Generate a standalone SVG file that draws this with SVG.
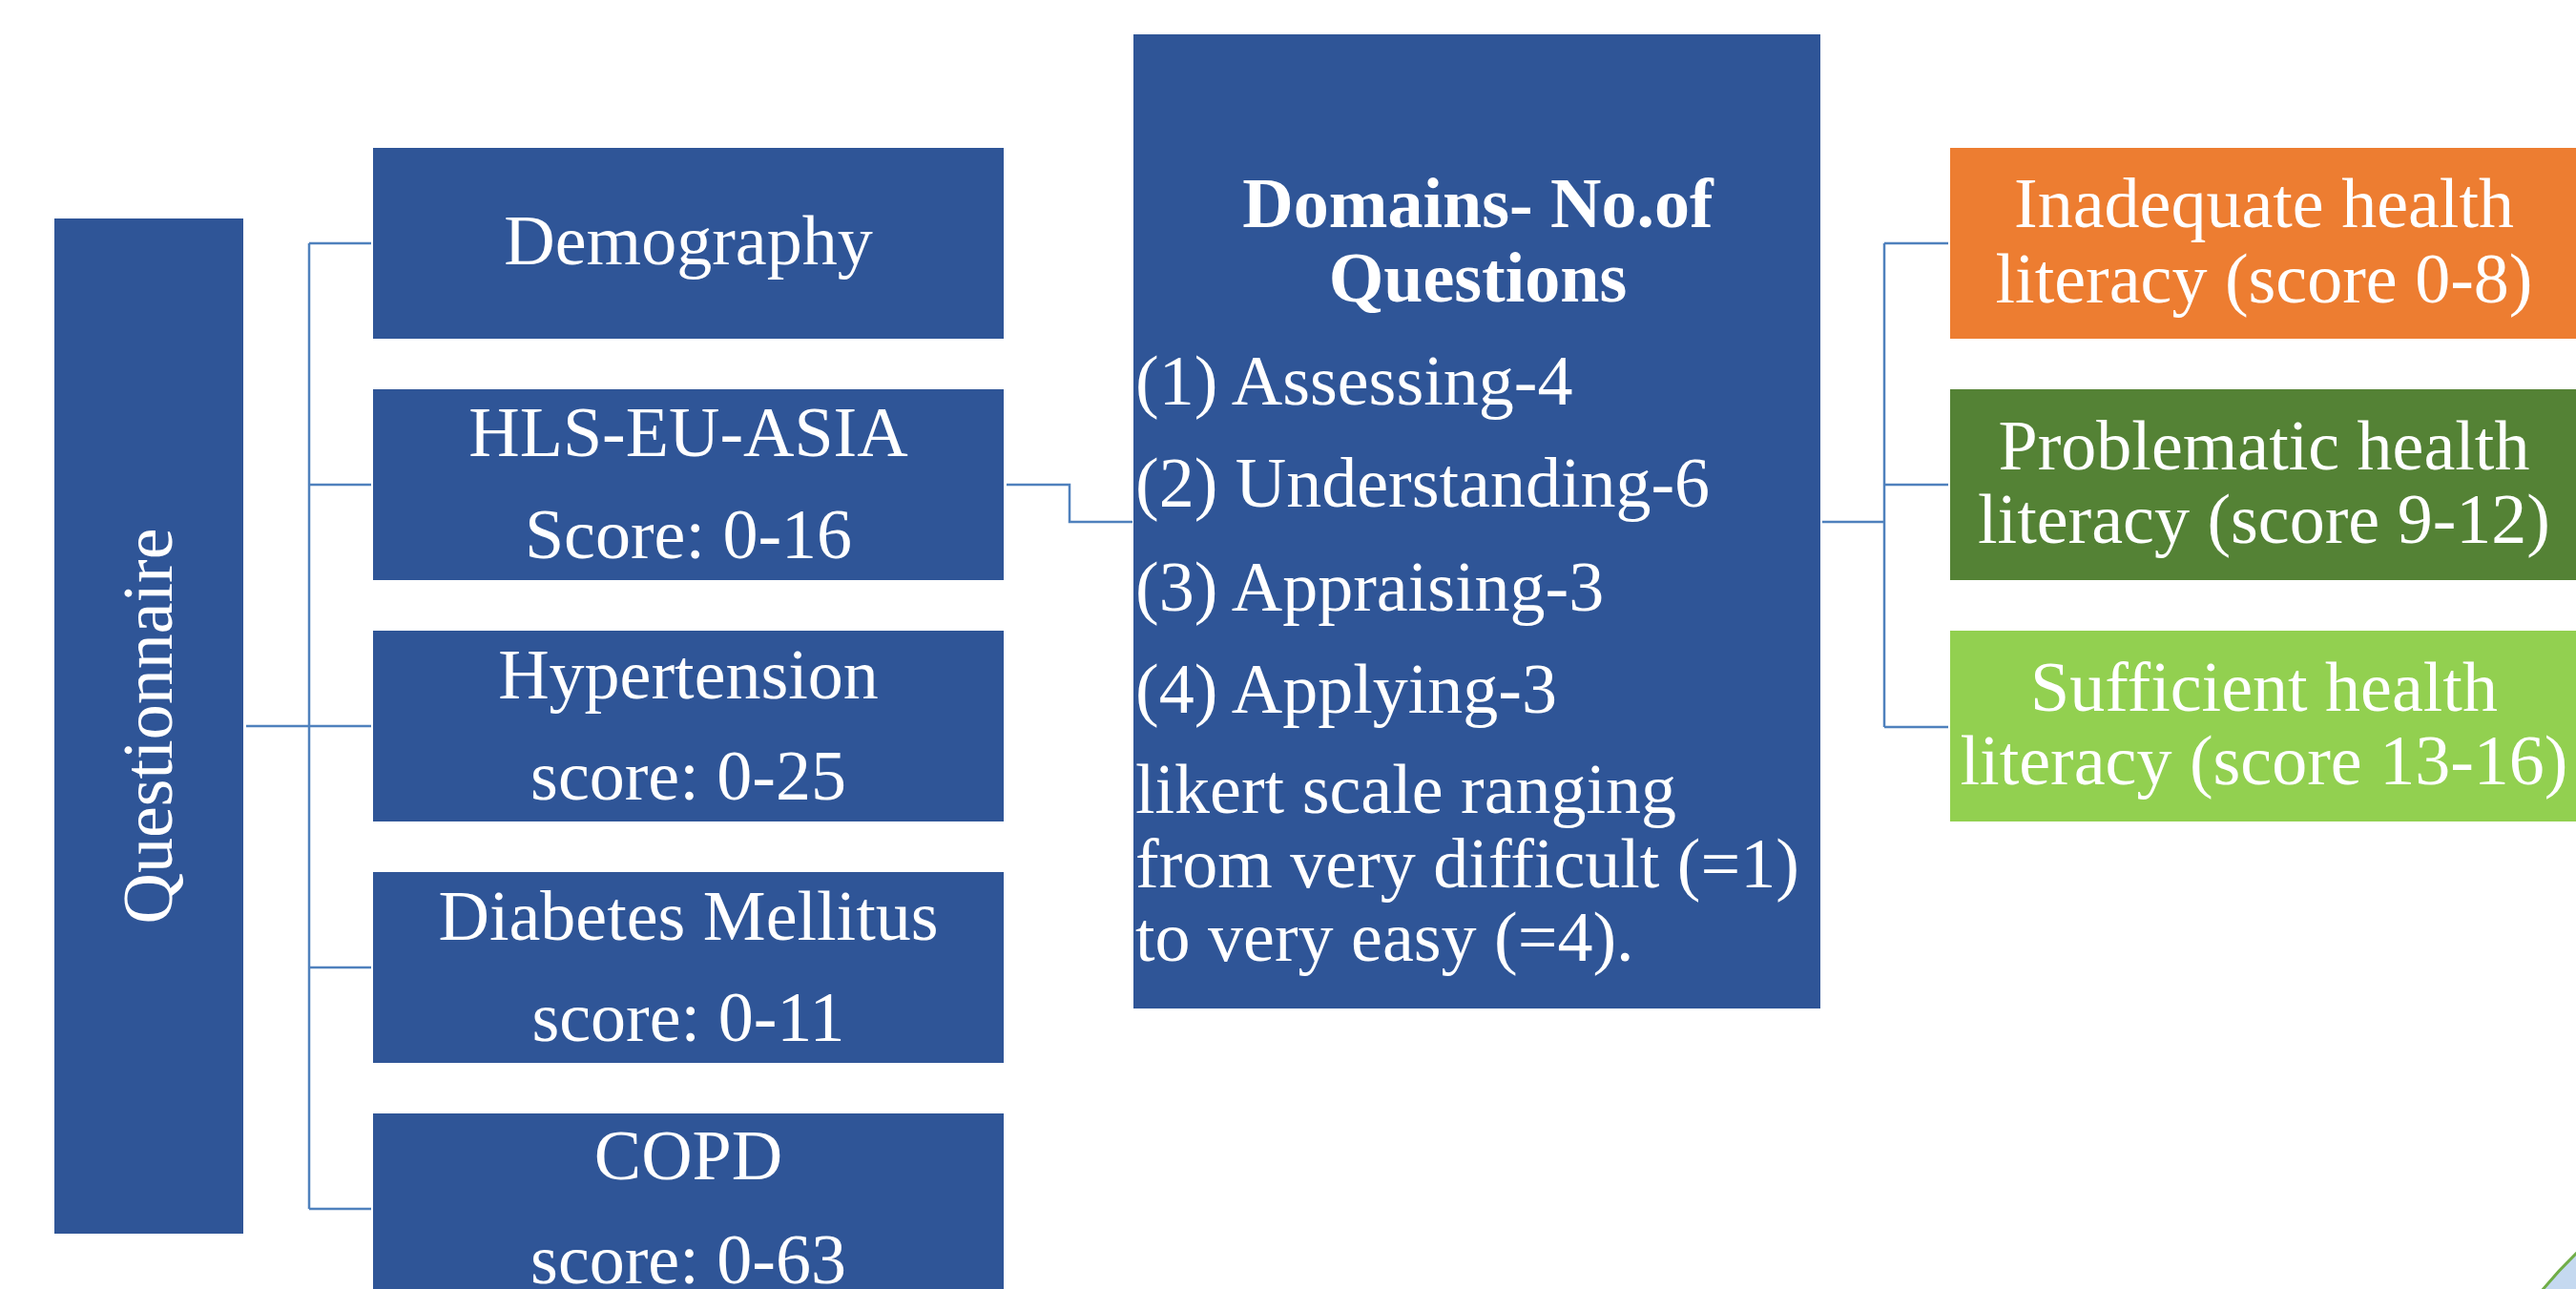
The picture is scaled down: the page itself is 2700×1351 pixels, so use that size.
<svg xmlns="http://www.w3.org/2000/svg" width="2700" height="1351" viewBox="0 0 2700 1351">
<style>
.blue{fill:#2F5597}
.t{font-family:"Liberation Serif","Times New Roman",serif;font-size:74px;fill:#FFFFFF}
.c{text-anchor:middle}
.b{font-weight:bold}
.conn{fill:none;stroke:#4F81BD;stroke-width:2.5}
</style>
<rect width="2700" height="1351" fill="#FFFFFF"/>
<g id="connectors">
<path class="conn" d="M258,761 H324 M324,255 V1267 M324,255 H389 M324,508 H389 M324,761 H389 M324,1014 H389 M324,1267 H389"/>
<path class="conn" d="M1055,508 H1121 V547 H1187"/>
<path class="conn" d="M1910,547 H1975 M1975,255 V762 M1975,255 H2042 M1975,508 H2042 M1975,762 H2042"/>
</g>
<g id="questionnaire">
<rect class="blue" x="57" y="229" width="198" height="1064"/>
<text class="t c" transform="translate(180,761) rotate(-90)">Questionnaire</text>
</g>
<g id="demography">
<rect class="blue" x="391" y="155" width="661" height="200"/>
<text class="t c" x="721.5" y="277">Demography</text>
</g>
<g id="hls">
<rect class="blue" x="391" y="408" width="661" height="200"/>
<text class="t c" x="721.5" y="478">HLS-EU-ASIA</text>
<text class="t c" x="721.5" y="585">Score: 0-16</text>
</g>
<g id="hypertension">
<rect class="blue" x="391" y="661" width="661" height="200"/>
<text class="t c" x="721.5" y="732">Hypertension</text>
<text class="t c" x="721.5" y="838">score: 0-25</text>
</g>
<g id="diabetes">
<rect class="blue" x="391" y="914" width="661" height="200"/>
<text class="t c" x="721.5" y="985">Diabetes Mellitus</text>
<text class="t c" x="721.5" y="1091">score: 0-11</text>
</g>
<g id="copd">
<rect class="blue" x="391" y="1167" width="661" height="200"/>
<text class="t c" x="721.5" y="1236">COPD</text>
<text class="t c" x="721.5" y="1345">score: 0-63</text>
</g>
<g id="domains">
<rect class="blue" x="1188" y="36" width="720" height="1021"/>
<text class="t c b" x="1549" y="238">Domains- No.of</text>
<text class="t c b" x="1549" y="316">Questions</text>
<text class="t" x="1190" y="424">(1) Assessing-4</text>
<text class="t" x="1190" y="531">(2) Understanding-6</text>
<text class="t" x="1190" y="640">(3) Appraising-3</text>
<text class="t" x="1190" y="747">(4) Applying-3</text>
<text class="t" x="1190" y="852">likert scale ranging</text>
<text class="t" x="1190" y="930">from very difficult (=1)</text>
<text class="t" x="1190" y="1007">to very easy (=4).</text>
</g>
<g id="inadequate">
<rect x="2044" y="155" width="660" height="200" fill="#ED7D31"/>
<text class="t c" x="2373" y="238">Inadequate health</text>
<text class="t c" x="2373" y="317">literacy (score 0-8)</text>
</g>
<g id="problematic">
<rect x="2044" y="408" width="660" height="200" fill="#548235"/>
<text class="t c" x="2373" y="492">Problematic health</text>
<text class="t c" x="2373" y="569">literacy (score 9-12)</text>
</g>
<g id="sufficient">
<rect x="2044" y="661" width="660" height="200" fill="#92D050"/>
<text class="t c" x="2373" y="745">Sufficient health</text>
<text class="t c" x="2373" y="822">literacy (score 13-16)</text>
</g>
<path d="M2664,1353 Q2682,1331 2703,1311 L2703,1353 Z" fill="#C5D9F0" stroke="#70AD47" stroke-width="3"/>
</svg>
